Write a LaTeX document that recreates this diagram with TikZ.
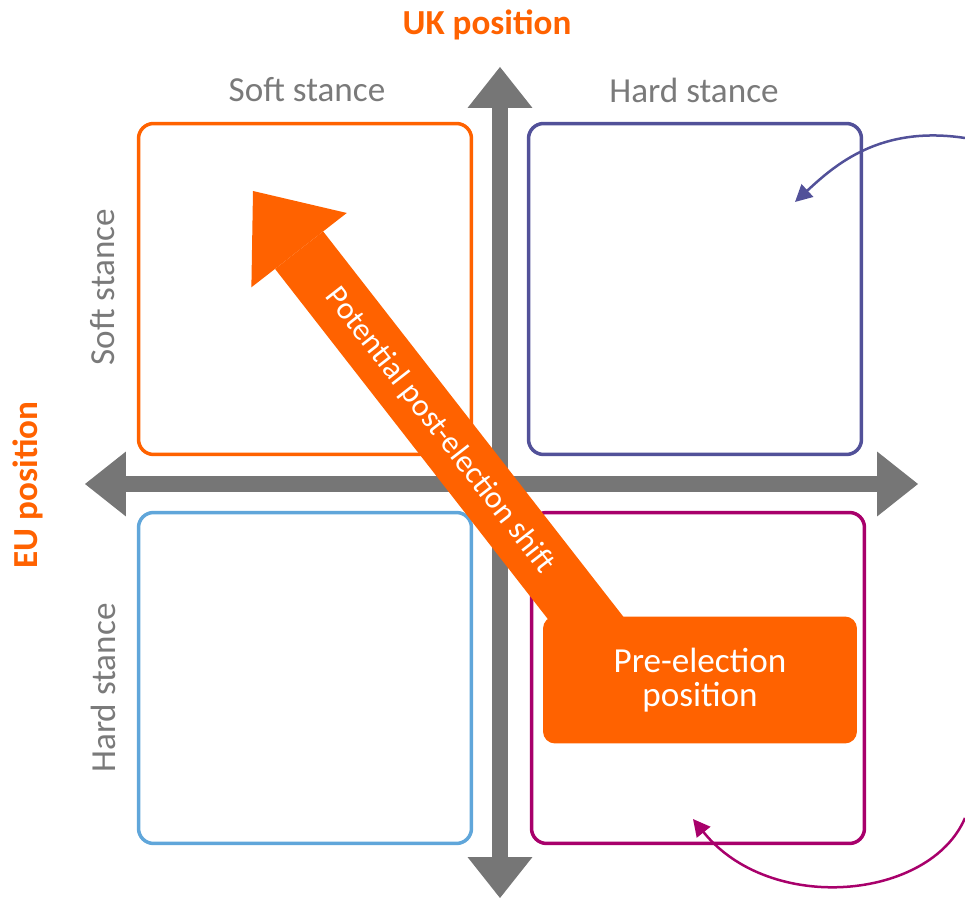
\documentclass[tikz,border=0pt]{standalone}
\usepackage{fontspec}
\setmainfont{Carlito}
\usetikzlibrary{arrows.meta}
\definecolor{ingorange}{HTML}{FF6200}
\definecolor{axisgray}{HTML}{767676}
\definecolor{stancegray}{HTML}{7A7A7A}
\definecolor{hardpurple}{HTML}{525199}
\definecolor{softblue}{HTML}{60A6DA}
\definecolor{hardmagenta}{HTML}{A8006B}

\begin{document}
\begin{tikzpicture}[
  x=0.02cm, y=-0.02cm,
  font=\fontsize{20}{19}\selectfont,
  quad/.style={draw, line width=0.07cm, rounded corners=0.3cm, minimum width=6.66cm, minimum height=6.62cm},
  stance/.style={text=stancegray},
  axislabel/.style={text=ingorange, font=\fontsize{20}{24}\selectfont\bfseries},
  axisarrow/.style={axisgray, line width=0.32cm,
    {Triangle[length=0.82cm,width=1.3cm,line width=0pt]}-{Triangle[length=0.82cm,width=1.3cm,line width=0pt]}},
  shiftarrow/.style={ingorange, line width=1.22cm, -{Triangle[length=1.5cm,width=2.42cm,line width=0pt]}},
  callout/.style={line width=0.05cm, -{Triangle[length=0.34cm,width=0.34cm]}},
]
\useasboundingbox (0,0) rectangle (965,898);

% Axis titles
\node[axislabel] (uk) at (487,25) {UK position};
\node[axislabel, rotate=90] (eu) at (28,485) {EU position};

% Axes
\coordinate (ytop) at (500,67);
\coordinate (ybot) at (500,898);
\coordinate (xleft) at (85,484);
\coordinate (xright) at (918,484);
\draw[axisarrow] (ybot) -- (ytop);
\draw[axisarrow] (xleft) -- (xright);

% Stance labels
\node[stance] (uksoft) at (307,90) {Soft stance};
\node[stance] (ukhard) at (694,90) {Hard stance};
\node[stance, rotate=90] (eusoft) at (103,287) {Soft stance};
\node[stance, rotate=90] (euhard) at (103,688) {Hard stance};

% Quadrants
\node[quad, draw=ingorange] (ss) at (305,289) {};
\node[quad, draw=hardpurple] (hs) at (695,289) {};
\node[quad, draw=softblue] (sh) at (305,678) {};
\node[quad, draw=hardmagenta] (hh) at (698,678) {};

% Shift arrow and pre-election box
\coordinate (shiftfrom) at (634,680);
\coordinate (shiftto) at (253,191);
\draw[shiftarrow] (shiftfrom) -- (shiftto)
  node[pos=0.51, sloped, text=white, font=\fontsize{18}{20}\selectfont] {Potential post-election shift};
\node[fill=ingorange, rounded corners=0.24cm, minimum width=6.28cm, minimum height=2.54cm,
      text=white, align=center] (pre) at (700,680) {Pre-election\\position};

% Callouts from the right
\coordinate (purplein) at (965,138);
\coordinate (purpletip) at (795,202);
\draw[callout, hardpurple] (purplein) .. controls (880,125) and (835,165) .. (purpletip);
\coordinate (magentain) at (965,818);
\coordinate (magentatip) at (693,819);
\draw[callout, hardmagenta] (magentain) .. controls (930,900) and (770,915) .. (magentatip);

\end{tikzpicture}
\end{document}
